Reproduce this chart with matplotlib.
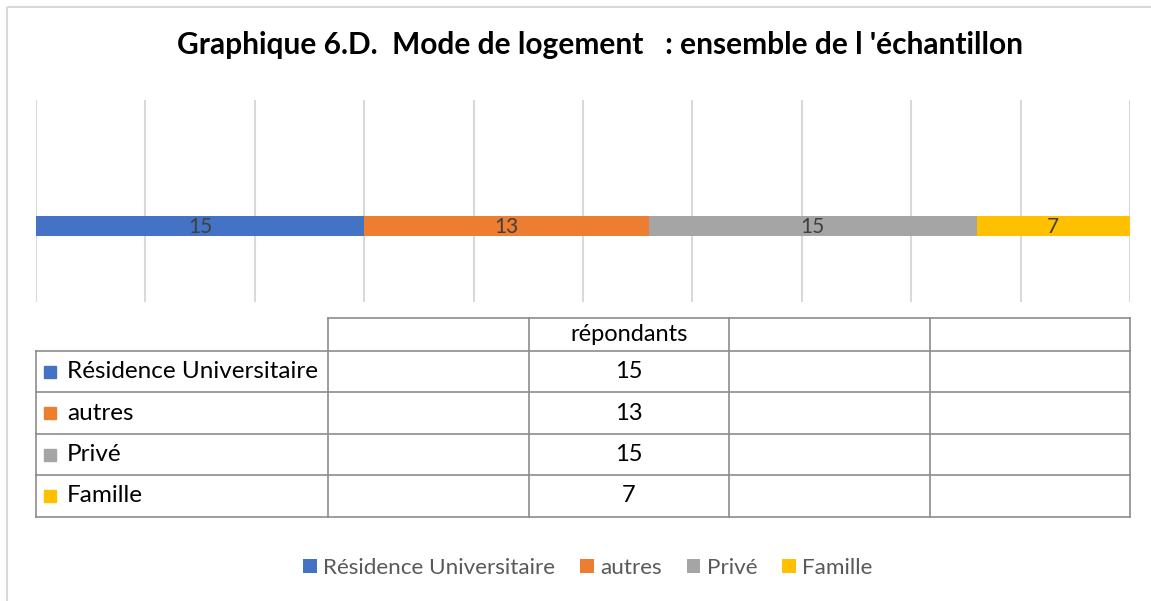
import matplotlib.pyplot as plt
from matplotlib.patches import Rectangle

# data
categories = ["Résidence Universitaire", "autres", "Privé", "Famille"]
values = [15, 13, 15, 7]
colors = ["#4472C4", "#ED7D31", "#A5A5A5", "#FFC000"]
column_header = "répondants"
title = "Graphique 6.D.  Mode de logement   : ensemble de l 'échantillon"

plt.rcParams['font.family'] = ['Lato', 'DejaVu Sans']

W, H = 1151, 601
fig = plt.figure(figsize=(W / 100, H / 100), dpi=100)

# background overlay in pixel coordinates (border, table)
bg = fig.add_axes([0, 0, 1, 1])
bg.set_xlim(0, W)
bg.set_ylim(H, 0)
bg.axis("off")
bg.add_patch(Rectangle((7, 7), W, H, fill=False, edgecolor="#d9d9d9", lw=1.5))

# main stacked bar chart
ax = fig.add_axes([36 / W, 1 - 302 / H, (1130 - 36) / W, (302 - 100) / H])
left = 0
for cat, val, col in zip(categories, values, colors):
    ax.barh(0, val, left=left, height=0.1, color=col, label=cat, zorder=3)
    ax.text(left + val / 2, -0.005, str(val), ha="center", va="center",
            fontsize=15, color="#404040", zorder=4)
    left += val
ax.set_xlim(0, 50)
ax.set_ylim(-0.376, 0.624)
for x in range(0, 51, 5):
    ax.axvline(x, color="#d9d9d9", lw=1.5, zorder=1)
for s in ax.spines.values():
    s.set_visible(False)
ax.set_xticks([])
ax.set_yticks([])

fig.text(600 / W, 1 - 45 / H, title, ha="center", va="center",
         fontsize=21.5, fontweight="bold", color="black")

# data table
col_x = [36, 328, 529, 729, 930, 1130]
row_y = [318, 351, 392, 434, 475, 517]
lc = "#8c8c8c"
# horizontal lines
bg.plot([328, 1130], [row_y[0], row_y[0]], color=lc, lw=1.2)
for y in row_y[1:]:
    bg.plot([36, 1130], [y, y], color=lc, lw=1.2)
# vertical lines
bg.plot([36, 36], [row_y[1], row_y[-1]], color=lc, lw=1.2)
for x in col_x[1:]:
    bg.plot([x, x], [row_y[0], row_y[-1]], color=lc, lw=1.2)
bg.text((col_x[2] + col_x[3]) / 2, (row_y[0] + row_y[1]) / 2, column_header,
        ha="center", va="center", fontsize=17, color="black")
for i, (cat, val, col) in enumerate(zip(categories, values, colors)):
    yc = (row_y[i + 1] + row_y[i + 2]) / 2
    bg.add_patch(Rectangle((44, yc - 6), 12, 12, color=col))
    bg.text(67, yc, cat, ha="left", va="center", fontsize=17.5, color="black")
    bg.text((col_x[2] + col_x[3]) / 2, yc, str(val), ha="center", va="center",
            fontsize=17, color="black")

# legend
fig.legend(loc="center", bbox_to_anchor=(588 / W, 1 - 568 / H), ncol=4,
           frameon=False, fontsize=16.2, labelcolor="#595959",
           handlelength=0.6, handleheight=0.6, handletextpad=0.3,
           columnspacing=1.1)

fig.savefig("out.png", dpi=100)
